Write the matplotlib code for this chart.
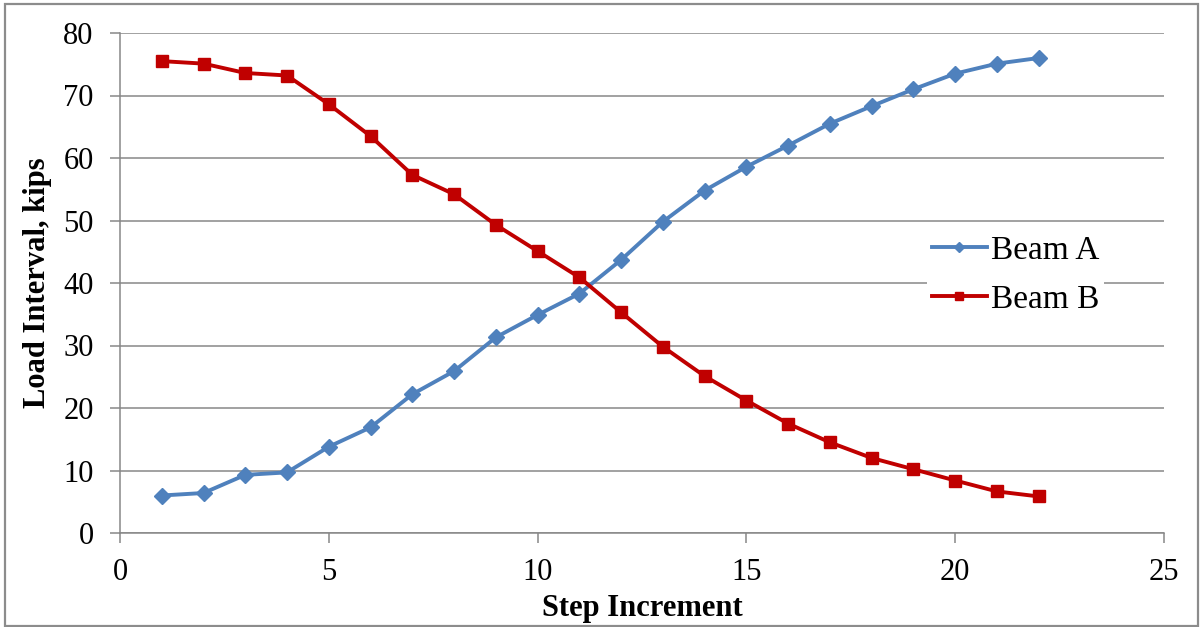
import matplotlib
matplotlib.use("Agg")
import matplotlib.pyplot as plt
from matplotlib.patches import Rectangle

plt.rcParams['font.family'] = ['Liberation Serif', 'DejaVu Serif']

# load at each step for the two beams
steps = list(range(1, 23))
beam_a = [6.0, 6.4, 9.3, 9.7, 13.8, 16.9, 22.2, 25.9, 31.3, 34.9, 38.3,
          43.7, 49.8, 54.8, 58.6, 62.0, 65.5, 68.3, 71.0, 73.5, 75.1, 76.0]
beam_b = [75.5, 75.1, 73.6, 73.2, 68.6, 63.5, 57.3, 54.2, 49.3, 45.1, 40.9,
          35.3, 29.8, 25.1, 21.2, 17.5, 14.5, 12.0, 10.2, 8.4, 6.65, 5.85]

blue = '#4F81BD'
red = '#C00000'
grid_c = '#878787'

fig = plt.figure(figsize=(12.02, 6.27), dpi=100)
ax = fig.add_axes([120/1202, 1 - 533/627, 1044/1202, 500/627])

ax.plot(steps, beam_a, color=blue, lw=2.8, marker='D', ms=8, label='Beam A', zorder=3)
ax.plot(steps, beam_b, color=red, lw=2.8, marker='s', ms=9, label='Beam B', zorder=3)

ax.set_xlim(0, 25)
ax.set_ylim(0, 80)
ax.set_xticks(range(0, 26, 5))
ax.set_yticks(range(0, 81, 10))
ax.yaxis.grid(True, color=grid_c, lw=1.1)
ax.set_axisbelow(True)

for side in ['top', 'right']:
    ax.spines[side].set_visible(False)
for side in ['left', 'bottom']:
    ax.spines[side].set_color(grid_c)
    ax.spines[side].set_linewidth(1.1)

ax.tick_params(axis='both', direction='out', length=7, width=1.1, color=grid_c,
               labelsize=22)
ax.tick_params(axis='y', pad=12)
ax.tick_params(axis='x', pad=11)

ax.set_xlabel('Step Increment', fontsize=22, fontweight='bold', labelpad=5)
ax.set_ylabel('Load Interval, kips', fontsize=22, fontweight='bold', labelpad=8)

leg = ax.legend(loc='upper left', bbox_to_anchor=(0.7727, 0.6047), frameon=True,
                fontsize=24, handlelength=1.65, handletextpad=0.12,
                labelspacing=0.54, borderpad=0.15, borderaxespad=0,
                markerscale=0.7)
leg.get_frame().set_edgecolor('none')
leg.get_frame().set_facecolor('white')
leg.get_frame().set_alpha(1)

# outer border of the chart area
fig.patches.append(Rectangle((5/1202, 1/627), 1193/1202, 622/627,
                             transform=fig.transFigure, fill=False,
                             edgecolor='#8c8c8c', lw=1.6))

fig.savefig('out.png', dpi=100)
